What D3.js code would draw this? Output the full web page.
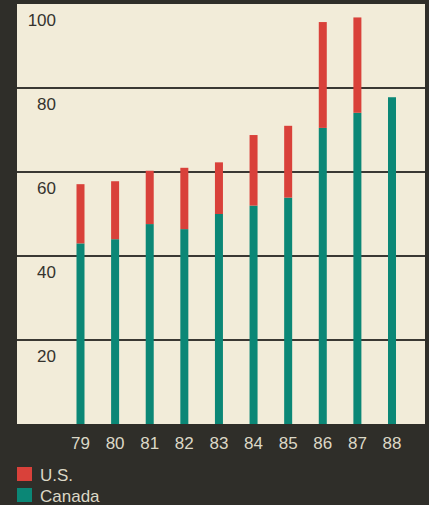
<!DOCTYPE html>
<html>
<head>
<meta charset="utf-8">
<script src="https://cdn.jsdelivr.net/npm/d3@7"></script>
<style>
  html, body { margin: 0; padding: 0; background: #2f2e29; }
  svg { display: block; }
  text { font-family: "Liberation Sans", Arial, Helvetica, sans-serif; }
</style>
</head>
<body>
<svg id="chart" width="429" height="505"></svg>
<script>
// Data
const years = ["79", "80", "81", "82", "83", "84", "85", "86", "87", "88"];
const canada = [43.0, 44.0, 47.6, 46.4, 50.0, 52.0, 53.9, 70.5, 74.1, 77.8];
const us = [14.1, 13.8, 12.7, 14.6, 12.3, 16.8, 17.1, 25.2, 22.7, 0];
const yTicks = [20, 40, 60, 80, 100];
const seriesNames = ["U.S.", "Canada"];
const seriesColors = ["#d9413a", "#0b8776"];

const svg = d3.select("#chart");
const W = 429, H = 505;

// Plot panel
const plot = { left: 17, right: 425, top: 4, bottom: 424 };

svg.append("rect").attr("width", W).attr("height", H).attr("fill", "#2f2e29");
svg.append("rect")
  .attr("x", plot.left).attr("y", plot.top)
  .attr("width", plot.right - plot.left).attr("height", plot.bottom - plot.top)
  .attr("fill", "#f2ecd9");

const y = d3.scaleLinear().domain([0, 100]).range([plot.bottom, plot.top]);
const x = d3.scalePoint().domain(years).range([80.5, 392]);
const barW = 8;

// Gridlines with labels sitting just below each line
const grid = svg.append("g");
yTicks.filter(t => t < 100).forEach(t => {
  grid.append("line")
    .attr("x1", plot.left).attr("x2", plot.right)
    .attr("y1", y(t)).attr("y2", y(t))
    .attr("stroke", "#3a3833").attr("stroke-width", 2);
});
yTicks.forEach(t => {
  grid.append("text")
    .attr("x", 56).attr("y", y(t) + 22)
    .attr("text-anchor", "end")
    .attr("font-size", 17)
    .attr("fill", "#35332e")
    .text(t);
});

// Stacked bars
const stackData = years.map((yr, i) => ({ year: yr, Canada: canada[i], "U.S.": us[i] }));
const stack = d3.stack().keys(["Canada", "U.S."]);
const layers = stack(stackData);
const colorOf = { "U.S.": seriesColors[0], "Canada": seriesColors[1] };

svg.append("g").selectAll("g")
  .data(layers)
  .join("g")
  .attr("fill", d => colorOf[d.key])
  .selectAll("rect")
  .data(d => d.filter(s => s[1] > s[0]))
  .join("rect")
  .attr("x", d => x(d.data.year) - barW / 2)
  .attr("width", barW)
  .attr("y", d => y(d[1]))
  .attr("height", d => y(d[0]) - y(d[1]));

// X axis labels
svg.append("g").selectAll("text")
  .data(years)
  .join("text")
  .attr("x", d => x(d))
  .attr("y", 449)
  .attr("text-anchor", "middle")
  .attr("font-size", 17)
  .attr("fill", "#dcd8c6")
  .text(d => d);

// Legend
const legend = svg.append("g");
seriesNames.forEach((name, i) => {
  const ly = 467 + i * 21;
  legend.append("rect")
    .attr("x", 17).attr("y", ly)
    .attr("width", 15).attr("height", 14)
    .attr("fill", seriesColors[i]);
  legend.append("text")
    .attr("x", 40).attr("y", ly + 14)
    .attr("font-size", 17)
    .attr("fill", "#dcd8c6")
    .text(name);
});
</script>
</body>
</html>
